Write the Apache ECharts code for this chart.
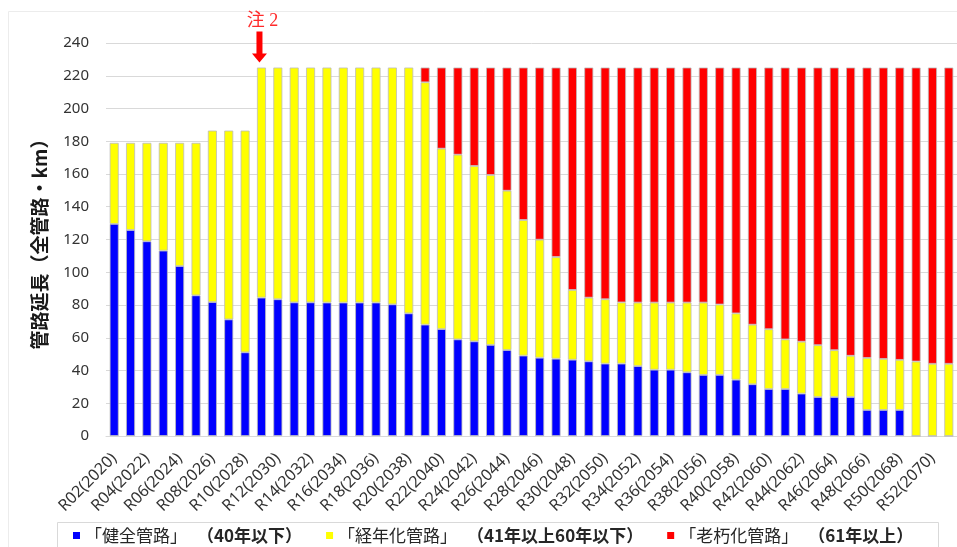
<!DOCTYPE html>
<html>
<head>
<meta charset="utf-8">
<script src="https://cdn.jsdelivr.net/npm/echarts@6/dist/echarts.min.js"></script>
<style>
  html, body { margin: 0; padding: 0; background: #fff; }
  #chart { width: 957px; height: 547px; }
</style>
</head>
<body>
<div id="chart"></div>
<script>
// Fiscal years (Reiwa / Gregorian)
const categories = [
  'R02(2020)', 'R03(2021)', 'R04(2022)', 'R05(2023)', 'R06(2024)', 'R07(2025)',
  'R08(2026)', 'R09(2027)', 'R10(2028)', 'R11(2029)', 'R12(2030)', 'R13(2031)',
  'R14(2032)', 'R15(2033)', 'R16(2034)', 'R17(2035)', 'R18(2036)', 'R19(2037)',
  'R20(2038)', 'R21(2039)', 'R22(2040)', 'R23(2041)', 'R24(2042)', 'R25(2043)',
  'R26(2044)', 'R27(2045)', 'R28(2046)', 'R29(2047)', 'R30(2048)', 'R31(2049)',
  'R32(2050)', 'R33(2051)', 'R34(2052)', 'R35(2053)', 'R36(2054)', 'R37(2055)',
  'R38(2056)', 'R39(2057)', 'R40(2058)', 'R41(2059)', 'R42(2060)', 'R43(2061)',
  'R44(2062)', 'R45(2063)', 'R46(2064)', 'R47(2065)', 'R48(2066)', 'R49(2067)',
  'R50(2068)', 'R51(2069)', 'R52(2070)', 'R53(2071)'
];

// 「健全管路」（40年以下） km
const healthy = [
  129.5, 125.8, 118.9, 113.2, 103.8, 85.9, 81.8, 71.2, 51.1, 84.5,
  83.5, 81.6, 81.6, 81.5, 81.5, 81.5, 81.5, 80.4, 74.9, 68.0,
  65.3, 59.0, 57.8, 55.6, 52.5, 49.1, 47.8, 47.2, 46.6, 45.6,
  44.2, 44.2, 42.7, 40.5, 40.5, 38.9, 37.3, 37.3, 34.4, 31.6,
  28.7, 28.7, 25.9, 23.8, 23.8, 23.8, 15.9, 15.9, 15.9, 0,
  0, 0
];

// 「経年化管路」（41年以上60年以下） km
const aging = [
  49.5, 53.2, 60.1, 65.8, 75.2, 93.1, 104.7, 115.3, 135.4, 140.5,
  141.5, 143.4, 143.4, 143.5, 143.5, 143.5, 143.5, 144.6, 150.1, 148.0,
  110.2, 112.8, 107.1, 103.8, 97.3, 82.8, 72.1, 62.1, 42.6, 38.9,
  39.3, 37.4, 38.8, 41.0, 41.0, 42.6, 44.2, 43.0, 40.5, 36.4,
  36.5, 30.3, 31.7, 31.7, 28.6, 25.2, 31.8, 31.2, 30.6, 45.5,
  44.1, 44.1
];

// 「老朽化管路」（61年以上） km
const deteriorated = [
  '-', '-', '-', '-', '-', '-', '-', '-', '-', '-',
  '-', '-', '-', '-', '-', '-', '-', '-', '-', 9.0,
  49.5, 53.2, 60.1, 65.6, 75.2, 93.1, 105.1, 115.7, 135.8, 140.5,
  141.5, 143.4, 143.5, 143.5, 143.5, 143.5, 143.5, 144.7, 150.1, 157.0,
  159.8, 166.0, 167.4, 169.5, 172.6, 176.0, 177.3, 177.9, 178.5, 179.5,
  180.9, 180.9
];

const seriesNames = ['「健全管路」', '「経年化管路」', '「老朽化管路」'];
const seriesNotes = ['（40年以下）', '（41年以上60年以下）', '（61年以上）'];
const seriesColors = ['#0000ff', '#ffff00', '#ff0000'];

const yTicks = { min: 0, max: 240, step: 20 };
const axisTitle = '管路延長（全管路・km）';

// Note 2: the year the total network length steps up
const noteIndex = 9;
const noteText = '注 2';

const num = v => (typeof v === 'number' ? v : 0);
const noteTotal = num(healthy[noteIndex]) + num(aging[noteIndex]) + num(deteriorated[noteIndex]);

const FONT = '"Noto Sans", "Noto Sans CJK JP", sans-serif';
const CJK = '"Noto Sans CJK JP", sans-serif';

const chart = echarts.init(document.getElementById('chart'), null, { renderer: 'canvas' });

function barSeries(i, data) {
  return {
    name: seriesNames[i],
    type: 'bar',
    stack: 'total',
    data: data,
    barWidth: 9,
    itemStyle: { color: seriesColors[i], borderColor: '#bdbdbd', borderWidth: 0.8 },
    emphasis: { disabled: true },
    animation: false
  };
}

const series = [barSeries(0, healthy), barSeries(1, aging), barSeries(2, deteriorated)];

// Arrow + note above the bar of noteIndex
series[1].markPoint = {
  silent: true,
  animation: false,
  symbol: 'path://M4.5,0 L10.5,0 L10.5,22 L15,22 L7.5,31 L0,22 L4.5,22 Z',
  symbolSize: [15, 31],
  symbolOffset: [-2, -20.5],
  itemStyle: { color: '#ff0000', borderWidth: 0 },
  label: {
    show: true,
    position: 'top',
    distance: 1,
    offset: [3, 0],
    formatter: noteText,
    color: '#ff2a2a',
    fontSize: 18,
    fontFamily: '"Liberation Serif", "Noto Sans CJK JP", serif'
  },
  data: [{ coord: [categories[noteIndex], noteTotal] }]
};

const option = {
  backgroundColor: '#ffffff',
  animation: false,
  grid: { left: 106, top: 43, width: 862, height: 393, containLabel: false },
  xAxis: {
    type: 'category',
    data: categories,
    axisLine: { show: true, lineStyle: { color: '#d9d9d9', width: 1 } },
    axisTick: { show: false },
    axisLabel: {
      interval: 1,
      rotate: 45,
      margin: 20,
      color: '#333333',
      fontSize: 16,
      fontFamily: FONT
    }
  },
  yAxis: {
    type: 'value',
    min: yTicks.min,
    max: yTicks.max,
    interval: yTicks.step,
    name: axisTitle,
    nameLocation: 'middle',
    nameRotate: 90,
    nameGap: 57,
    nameTextStyle: { color: '#1a1a1a', fontSize: 19, fontWeight: 'bold', fontFamily: CJK },
    axisLine: { show: false },
    axisTick: { show: false },
    axisLabel: { margin: 17, color: '#333333', fontSize: 15, fontFamily: FONT },
    splitLine: { lineStyle: { color: '#d9d9d9', width: 1 } }
  },
  legend: {
    left: 68,
    top: 522,
    itemWidth: 7,
    itemHeight: 7,
    itemGap: 24,
    icon: 'rect',
    selectedMode: false,
    itemStyle: { borderWidth: 0 },
    data: seriesNames,
    formatter: function (name) {
      const i = seriesNames.indexOf(name);
      return '{a|' + name + '}{b|' + seriesNotes[i] + '}';
    },
    textStyle: {
      color: '#262626',
      fontSize: 17,
      fontFamily: CJK,
      rich: {
        a: { fontSize: 17, fontFamily: CJK, color: '#262626' },
        b: { fontSize: 17, fontFamily: CJK, fontWeight: 'bold', color: '#262626', padding: [0, 0, 0, 10] }
      }
    }
  },
  graphic: [
    {
      type: 'rect',
      silent: true,
      z: -1,
      shape: { x: 8.5, y: 11.5, width: 1000, height: 600 },
      style: { fill: 'none', stroke: '#ececec', lineWidth: 1 }
    },
    {
      type: 'rect',
      silent: true,
      z: -1,
      shape: { x: 57.5, y: 522.5, width: 881, height: 40 },
      style: { fill: 'none', stroke: '#d9d9d9', lineWidth: 1 }
    }
  ],
  series: series
};

chart.setOption(option);
</script>
</body>
</html>
